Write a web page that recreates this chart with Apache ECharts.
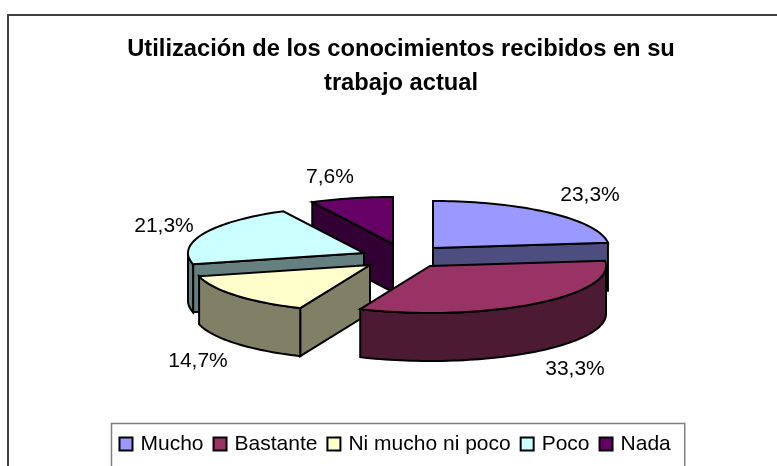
<!DOCTYPE html>
<html><head><meta charset="utf-8">
<style>html,body{margin:0;padding:0;background:#fff;overflow:hidden}#c{width:777px;height:466px}</style>
<script src="https://cdn.jsdelivr.net/npm/echarts@6/dist/echarts.min.js"></script>
</head><body><div id="c"></div>
<script>
const categories = ['Mucho', 'Bastante', 'Ni mucho ni poco', 'Poco', 'Nada'];
const shares = [23.3, 33.3, 14.7, 21.3, 7.6];
const topColors = ['#9999FF', '#993366', '#FFFFCC', '#CCFFFF', '#660066'];
const sideColors = ['#4D4D80', '#4D1A33', '#808066', '#668080', '#330033'];
const sliceApex = [[433, 248], [430, 266], [370, 265], [364, 253], [393, 244]];
const labelCentre = [[590, 195], [575, 369], [198, 361], [164, 226], [330, 177]];
const drawOrder = [4, 3, 0, 2, 1];
const RX = 176, RY = 47, DEPTH = 48;
const total = shares.reduce((a, b) => a + b, 0);
function startAngle(i) {
  let s = 0;
  for (let k = 0; k < i; k++) s += shares[k];
  return s / total * Math.PI * 2;
}
function pt(c, a, dy) {
  return [c[0] + RX * Math.sin(a), c[1] - RY * Math.cos(a) + (dy || 0)];
}
function arcPts(c, a0, a1, dy) {
  const n = Math.max(2, Math.ceil((a1 - a0) / 0.03)), out = [];
  for (let i = 0; i <= n; i++) out.push(pt(c, a0 + (a1 - a0) * i / n, dy));
  return out;
}
function poly(points, fill) {
  return { type: 'polygon', shape: { points }, style: { fill, stroke: '#000', lineWidth: 2, lineJoin: 'miter' } };
}
function renderSlice(i) {
  return function (params, api) {
    const c = sliceApex[i];
    const a0 = startAngle(i), a1 = a0 + api.value(0) / total * Math.PI * 2;
    const kids = [];
    const base = [c[0], c[1] + DEPTH];
    if (a0 > Math.PI * 0.5) {
      const p = pt(c, a0);
      kids.push(poly([c, p, [p[0], p[1] + DEPTH], base], sideColors[i]));
    }
    if (a1 < Math.PI) {
      const p = pt(c, a1);
      kids.push(poly([c, p, [p[0], p[1] + DEPTH], base], sideColors[i]));
    }
    const r0 = Math.max(a0, Math.PI / 2), r1 = Math.min(a1, Math.PI * 1.5);
    if (r1 > r0) {
      kids.push(poly(arcPts(c, r0, r1, 0).concat(arcPts(c, r0, r1, DEPTH).reverse()), sideColors[i]));
    }
    kids.push(poly([c].concat(arcPts(c, a0, a1, 0)), topColors[i]));
    const txt = api.value(0).toFixed(1).replace('.', ',') + '%';
    kids.push({ type: 'text', style: { x: labelCentre[i][0], y: labelCentre[i][1], text: txt,
      fill: '#000', font: '21px "Liberation Sans", Arial, sans-serif', align: 'center', verticalAlign: 'middle' } });
    return { type: 'group', children: kids };
  };
}
const chart = echarts.init(document.getElementById('c'), null, { renderer: 'canvas' });
chart.setOption({
  animation: false,
  backgroundColor: '#fff',
  title: {
    text: 'Utilización de los conocimientos recibidos en su\ntrabajo actual',
    left: 401, top: 27, textAlign: 'center', textVerticalAlign: 'top',
    padding: [5, 10, 5, 0],
    textStyle: { fontFamily: '"Liberation Sans", Arial, sans-serif', fontWeight: 'bold', fontSize: 23.7, lineHeight: 34, color: '#000' }
  },
  legend: {
    data: categories, left: 111.5, top: 423.5, padding: [10, 14, 40, 7], itemGap: 9,
    icon: 'rect', itemWidth: 13, itemHeight: 13,
    borderColor: '#808080', borderWidth: 1.5, backgroundColor: '#fff',
    itemStyle: { borderColor: '#000', borderWidth: 2 },
    textStyle: { fontFamily: '"Liberation Sans", Arial, sans-serif', fontSize: 21, color: '#000', padding: [0, 0, 5, 3] }
  },
  graphic: [{ type: 'rect', silent: true, z: -1, shape: { x: 8, y: 15, width: 800, height: 500 },
    style: { fill: '#fff', stroke: '#404040', lineWidth: 2 } }],
  series: drawOrder.map(i => ({
    type: 'custom', name: categories[i], coordinateSystem: 'none', silent: true,
    itemStyle: { color: topColors[i] },
    data: [[shares[i]]], renderItem: renderSlice(i), encode: { value: 0 }
  }))
});
</script></body></html>
